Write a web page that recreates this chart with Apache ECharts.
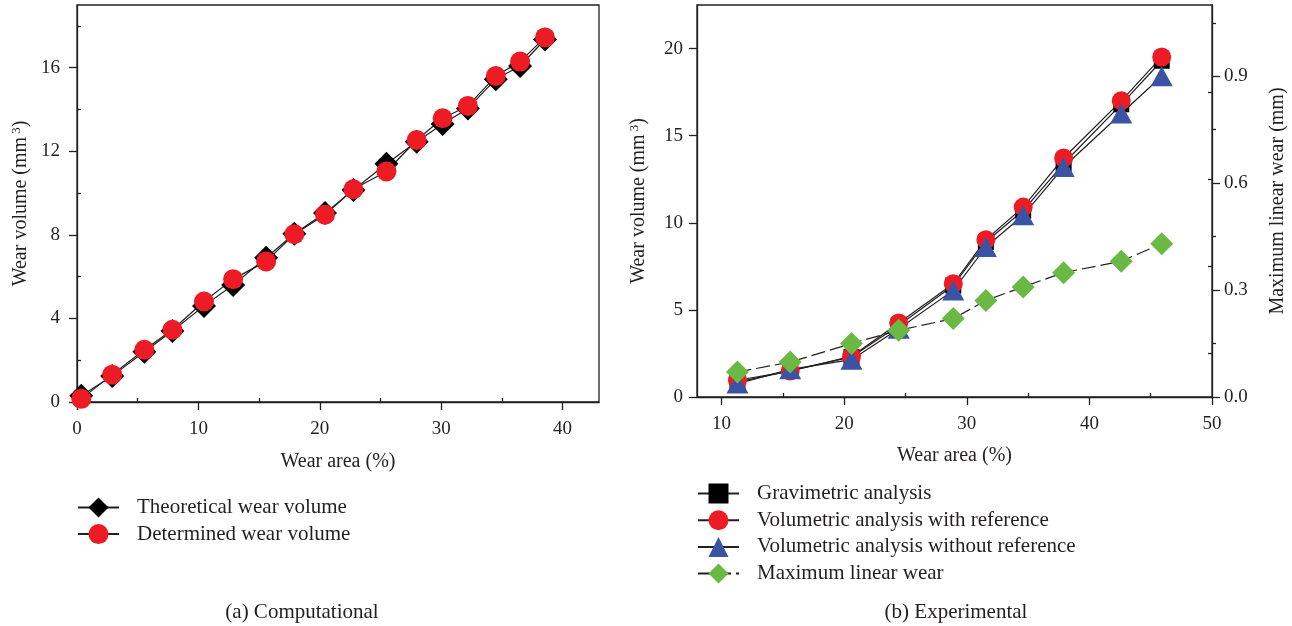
<!DOCTYPE html>
<html>
<head>
<meta charset="utf-8">
<title>Wear volume</title>
<script src="https://cdn.jsdelivr.net/npm/echarts@6.0.0/dist/echarts.min.js"></script>
<style>
  html, body { margin: 0; padding: 0; background: #fff; }
  #chart-container { width: 1292px; height: 626px; }
</style>
</head>
<body>
<div id="chart-container"></div>
<script>
// (a) computational
var compArea = [0.35, 2.9, 5.55, 7.86, 10.46, 12.86, 15.58, 17.9, 20.43, 22.77, 25.49, 27.98, 30.12, 32.2, 34.5, 36.5, 38.55];
var compTheoretical = [0.3, 1.25, 2.4, 3.4, 4.6, 5.6, 6.9, 8.05, 9.04, 10.15, 11.4, 12.46, 13.3, 14.05, 15.45, 16.08, 17.35];
var compDetermined = [0.15, 1.31, 2.5, 3.46, 4.81, 5.88, 6.73, 8.03, 8.96, 10.18, 11.03, 12.54, 13.58, 14.17, 15.6, 16.29, 17.45];

// (b) experimental
var expArea = [11.3, 15.6, 20.6, 24.45, 28.9, 31.56, 34.6, 37.9, 42.6, 45.9];
var expGravimetric = [0.85, 1.5, 2.3, 4.1, 6.4, 8.9, 10.7, 13.4, 16.8, 19.3];
var expVolRef = [0.96, 1.49, 2.33, 4.25, 6.5, 9.03, 10.9, 13.72, 17.0, 19.52];
var expVolNoRef = [0.77, 1.59, 2.14, 3.92, 6.12, 8.61, 10.43, 13.2, 16.27, 18.41];
var expLinearWear = [0.070, 0.098, 0.150, 0.187, 0.22, 0.271, 0.309, 0.349, 0.381, 0.430];

// tick labels
var compXTicks = [0, 10, 20, 30, 40];
var compXMinor = [5, 15, 25, 35];
var compYTicks = [0, 4, 8, 12, 16];
var compYMinor = [2, 6, 10, 14, 18];
var expXTicks = [10, 20, 30, 40, 50];
var expXMinor = [15, 25, 35, 45];
var expYTicks = [0, 5, 10, 15, 20];
var expYMinor = [2.5, 7.5, 12.5, 17.5];
var expY2Ticks = [0, 0.3, 0.6, 0.9];
var expY2Minor = [0.15, 0.45, 0.75, 1.05];

var names = {
  theo: 'Theoretical wear volume',
  det: 'Determined wear volume',
  grav: 'Gravimetric analysis',
  volRef: 'Volumetric analysis with reference',
  volNoRef: 'Volumetric analysis without reference',
  linear: 'Maximum linear wear'
};

var FONT = '"Liberation Serif", "Times New Roman", serif';
var INK = '#231f20';

function pairs(xs, ys) {
  return xs.map(function (x, i) { return [x, ys[i]]; });
}

// main axis: line, long ticks and labels
function mainAxis(extra) {
  var a = {
    type: 'value',
    splitLine: { show: false },
    axisLine: { show: true, lineStyle: { color: INK, width: 1.3 } },
    axisTick: { show: true, length: 8, lineStyle: { color: INK, width: 1.3 } },
    axisLabel: { color: INK, fontFamily: FONT, fontSize: 19, margin: 14 },
    nameTextStyle: { color: INK, fontFamily: FONT, fontSize: 20 }
  };
  for (var k in extra) {
    if (k === 'ticks') {
      a.axisTick.customValues = extra.ticks;
      a.axisLabel.customValues = extra.ticks;
    } else if (k === 'formatter') {
      a.axisLabel.formatter = extra.formatter;
    } else if (k === 'margin') {
      a.axisLabel.margin = extra.margin;
    } else {
      a[k] = extra[k];
    }
  }
  return a;
}

// overlay axis only for the short minor ticks
function minorAxis(extra, inside) {
  var a = {
    type: 'value',
    splitLine: { show: false },
    axisLine: { show: false },
    axisLabel: { show: false },
    axisTick: { show: true, inside: !!inside, length: 4, customValues: extra.ticks, lineStyle: { color: INK, width: 1.3 } }
  };
  for (var k in extra) {
    if (k !== 'ticks') a[k] = extra[k];
  }
  return a;
}

var supName = {
  color: INK, fontFamily: FONT, fontSize: 20,
  rich: { sup: { fontFamily: FONT, fontSize: 13, color: INK, padding: [0, 0, 9, 3] } }
};

var dom = document.getElementById('chart-container');
var myChart = echarts.init(dom, null, { renderer: 'canvas' });
var option;

option = {
  animation: false,
  backgroundColor: '#fff',
  grid: [
    { left: 77, top: 5, width: 522, height: 397, show: true, borderColor: INK, borderWidth: 1.3 },
    { left: 697, top: 5, width: 515, height: 392, show: true, borderColor: INK, borderWidth: 1.3 }
  ],
  xAxis: [
    mainAxis({ gridIndex: 0, min: 0, max: 43, ticks: compXTicks, margin: 18, name: 'Wear area (%)', nameLocation: 'middle', nameGap: 50 }),
    minorAxis({ gridIndex: 0, min: 0, max: 43, ticks: compXMinor }),
    mainAxis({ gridIndex: 1, min: 8, max: 50, ticks: expXTicks, margin: 18, name: 'Wear area (%)', nameLocation: 'middle', nameGap: 49 }),
    minorAxis({ gridIndex: 1, min: 8, max: 50, ticks: expXMinor })
  ],
  yAxis: [
    mainAxis({
      gridIndex: 0, min: 0, max: 19, ticks: compYTicks, margin: 17,
      name: 'Wear volume (mm{sup|3})', nameLocation: 'middle', nameGap: 45, nameRotate: 90,
      nameTextStyle: supName
    }),
    minorAxis({ gridIndex: 0, min: 0, max: 19, ticks: compYMinor }),
    mainAxis({
      gridIndex: 1, min: 0, max: 22.5, ticks: expYTicks,
      name: 'Wear volume (mm{sup|3})', nameLocation: 'middle', nameGap: 47, nameRotate: 90,
      nameTextStyle: supName
    }),
    minorAxis({ gridIndex: 1, min: 0, max: 22.5, ticks: expYMinor }, true),
    mainAxis({
      gridIndex: 1, position: 'right', min: 0, max: 1.1, ticks: expY2Ticks, margin: 12,
      formatter: function (v) { return v.toFixed(1); },
      name: 'Maximum linear wear (mm)', nameLocation: 'middle', nameGap: 56, nameRotate: 90
    }),
    minorAxis({ gridIndex: 1, position: 'right', min: 0, max: 1.1, ticks: expY2Minor })
  ],
  legend: [
    {
      data: [names.theo, names.det],
      orient: 'vertical', left: 77, top: 497, padding: 0,
      itemWidth: 41, itemHeight: 25, itemGap: 5.6,
      textStyle: { color: INK, fontFamily: FONT, fontSize: 21, padding: [0, 0, 0, 13] }
    },
    {
      data: [names.grav, names.volRef, names.volNoRef, names.linear],
      orient: 'vertical', left: 697, top: 483, padding: 0,
      itemWidth: 41, itemHeight: 25, itemGap: 5.7,
      textStyle: { color: INK, fontFamily: FONT, fontSize: 21, padding: [0, 0, 0, 13] }
    }
  ],
  graphic: [
    { type: 'text', x: 302, y: 612, style: { text: '(a) Computational', fill: INK, fontFamily: FONT, fontSize: 21, align: 'center', verticalAlign: 'middle' } },
    { type: 'text', x: 956, y: 612, style: { text: '(b) Experimental', fill: INK, fontFamily: FONT, fontSize: 21, align: 'center', verticalAlign: 'middle' } }
  ],
  series: [
    {
      name: names.theo, type: 'line', xAxisIndex: 0, yAxisIndex: 0,
      data: pairs(compArea, compTheoretical),
      symbol: 'diamond', symbolSize: 24,
      itemStyle: { color: '#000' },
      lineStyle: { color: INK, width: 1.2 }
    },
    {
      name: names.det, type: 'line', xAxisIndex: 0, yAxisIndex: 0,
      data: pairs(compArea, compDetermined),
      symbol: 'circle', symbolSize: 20,
      itemStyle: { color: '#ed1c24' },
      lineStyle: { color: INK, width: 1.2 }
    },
    {
      name: names.grav, type: 'line', xAxisIndex: 2, yAxisIndex: 2,
      data: pairs(expArea, expGravimetric),
      symbol: 'rect', symbolSize: 16,
      itemStyle: { color: '#000' },
      lineStyle: { color: INK, width: 1.2 }
    },
    {
      name: names.volRef, type: 'line', xAxisIndex: 2, yAxisIndex: 2,
      data: pairs(expArea, expVolRef),
      symbol: 'circle', symbolSize: 19,
      itemStyle: { color: '#ed1c24' },
      lineStyle: { color: INK, width: 1.2 }
    },
    {
      name: names.volNoRef, type: 'line', xAxisIndex: 2, yAxisIndex: 2,
      data: pairs(expArea, expVolNoRef),
      symbol: 'triangle', symbolSize: [22, 20],
      itemStyle: { color: '#3a53a4' },
      lineStyle: { color: INK, width: 1.2 }
    },
    {
      name: names.linear, type: 'line', xAxisIndex: 2, yAxisIndex: 4,
      data: pairs(expArea, expLinearWear),
      symbol: 'diamond', symbolSize: 23,
      itemStyle: { color: '#6ab945' },
      lineStyle: { color: INK, width: 1.2, type: [14, 5] }
    }
  ]
};

if (option && typeof option === 'object') {
  myChart.setOption(option);
}

window.addEventListener('resize', myChart.resize);
</script>
</body>
</html>
